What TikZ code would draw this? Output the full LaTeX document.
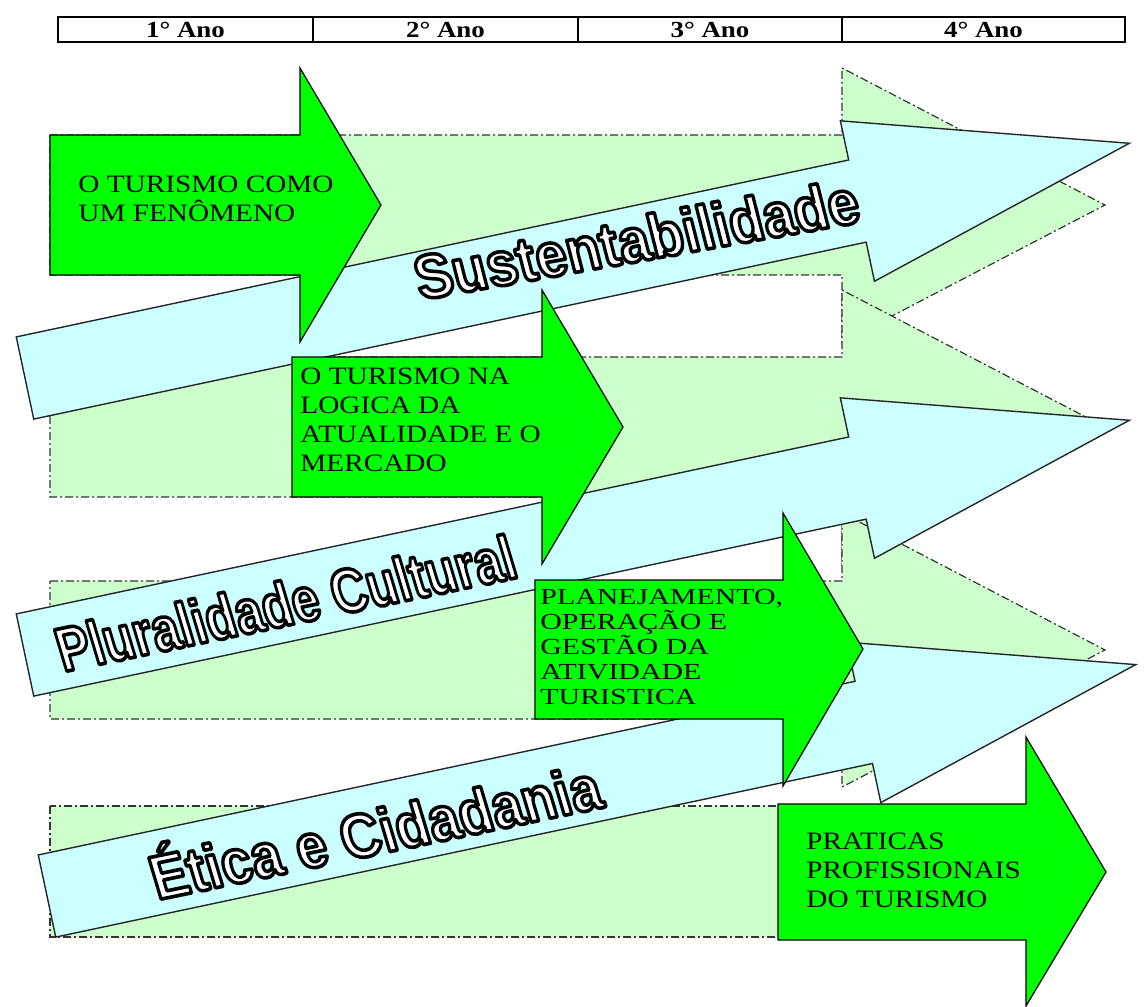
\documentclass[tikz,border=0pt]{standalone}
\usepackage{fontspec}
\usepackage{graphicx}
\newfontfamily\boxfont[FakeStretch=1.17]{Liberation Serif}
\newfontfamily\planfont[FakeStretch=1.3]{Liberation Serif}
\newfontfamily\artfont{Liberation Sans}
\definecolor{paleGreen}{HTML}{CCFFCC}
\definecolor{paleBlue}{HTML}{CCFFFF}
\definecolor{brightGreen}{HTML}{00FF00}

% white letters with a black rim (fill and stroke the glyphs)
\newcommand\artword[2]{\scalebox{#1}[1]{%
  \special{pdf:literal direct 2 Tr 1.8 w 1 j 0 G 1 g}#2%
  \special{pdf:literal direct 0 Tr 0 g 0 G}}}

\begin{document}
\begin{tikzpicture}
      [ x=0.5pt, y=-0.5pt
      , yearcell/.style={draw, line width=1pt, fill=white, inner sep=0pt, minimum height=12.5pt, font=\boxfont\bfseries\fontsize{11.5}{12}\selectfont}
      , backarrow/.style={fill=paleGreen, draw=black!80, line width=0.6pt, dash pattern=on 4pt off 1.5pt on 1pt off 1.5pt}
      , themearrow/.style={fill=paleBlue, draw=black!85, line width=0.7pt}
      , stagearrow/.style={fill=brightGreen, draw=black, line width=0.6pt}
      , stagetext/.style={anchor=north west, inner sep=0pt, align=left, font=\boxfont\fontsize{12.5}{14.5}\selectfont}
      , themetext/.style={anchor=base west, inner sep=0pt, cm={1.2,0,0,1,(0,0)}, font=\artfont\bfseries\fontsize{31}{31}\selectfont}
      ]
    \useasboundingbox (0,0) rectangle (1144,1006);

    % pale bands behind
    \draw[backarrow] (50,135) -- (842,135) -- (842,68) -- (1105,205) -- (842,342) -- (842,275) -- (50,275) -- cycle;
    \draw[backarrow] (50,357) -- (842,357) -- (842,290) -- (1105,427) -- (842,564) -- (842,497) -- (50,497) -- cycle;
    \draw[backarrow] (50,581) -- (842,581) -- (842,513) -- (1105,650) -- (842,787) -- (842,719) -- (50,719) -- cycle;
    \draw[backarrow] (50,806) rectangle (842,937);

    % tilted theme arrows
    \begin{scope}[shift={(25,378)}, rotate=12]
      \draw[themearrow] (0,-42) -- (851,-42) -- (851,-82) -- (1129,0) -- (851,82) -- (851,42) -- (0,42) -- cycle;
    \end{scope}
    \begin{scope}[shift={(25,655)}, rotate=12]
      \draw[themearrow] (0,-42) -- (851,-42) -- (851,-82) -- (1129,0) -- (851,82) -- (851,42) -- (0,42) -- cycle;
    \end{scope}
    \begin{scope}[shift={(47,896)}, rotate=12]
      \draw[themearrow] (0,-42) -- (835,-42) -- (835,-82) -- (1113,0) -- (835,82) -- (835,42) -- (0,42) -- cycle;
    \end{scope}

    % stage arrows
    \draw[stagearrow] (50,135) -- (300,135) -- (300,68) -- (381,205) -- (300,342) -- (300,275) -- (50,275) -- cycle;
    \draw[stagearrow] (292,357) -- (542,357) -- (542,290) -- (623,427) -- (542,564) -- (542,497) -- (292,497) -- cycle;
    \draw[stagearrow] (535,580) -- (783,580) -- (783,513) -- (863,649) -- (783,786) -- (783,719) -- (535,719) -- cycle;
    \draw[stagearrow] (778,804) -- (1026,804) -- (1026,737) -- (1106,872) -- (1026,1006) -- (1026,940) -- (778,940) -- cycle;

    \node[stagetext] (F) at (78,176) {O TURISMO COMO\\UM FENÔMENO};
    \node[stagetext] (M) at (300,368) {O TURISMO NA\\LOGICA DA\\ATUALIDADE E O\\MERCADO};
    \node[stagetext, font=\planfont\fontsize{11.5}{12.5}\selectfont] (P) at (540,589) {PLANEJAMENTO,\\OPERAÇÃO E\\GESTÃO DA\\ATIVIDADE\\TURISTICA};
    \node[stagetext] (PP) at (806,833) {PRATICAS\\PROFISSIONAIS\\DO TURISMO};

    \node[themetext, rotate=12] (S) at (420,300) {\artword{0.76}{Sustentabilidade}};
    \node[themetext, rotate=14] (PC) at (63,672) {\artword{0.67}{Pluralidade Cultural}};
    \node[themetext, rotate=14] (EC) at (157,900) {\artword{0.75}{Ética e Cidadania}};

    % years
    \node[yearcell, minimum width=127.5pt] (Y1) at (185.5,29.5) {1° Ano};
    \node[yearcell, minimum width=132.5pt] (Y2) at (445.5,29.5) {2° Ano};
    \node[yearcell, minimum width=132pt] (Y3) at (710,29.5) {3° Ano};
    \node[yearcell, minimum width=141.5pt] (Y4) at (983.5,29.5) {4° Ano};

  \end{tikzpicture}
\end{document}
